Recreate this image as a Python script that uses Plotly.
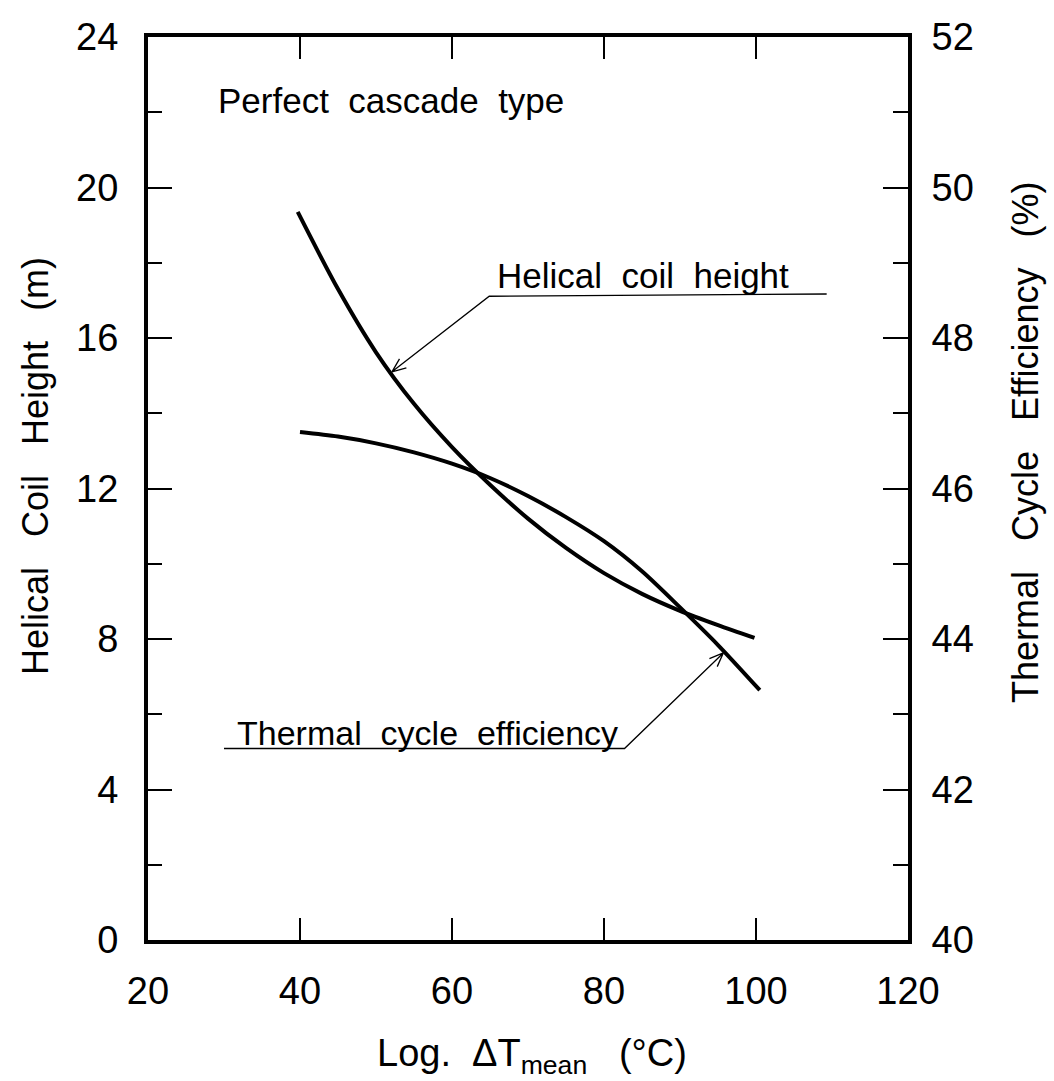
import math
import plotly.graph_objects as go

# ---------------- data ----------------
dT_coil = [39.7, 45, 50, 55, 60, 65, 70, 75, 80, 85, 90, 95, 99.8]
coil_height = [19.35, 17.3, 15.62, 14.25, 13.1, 12.1, 11.2, 10.42, 9.75, 9.2, 8.75, 8.37, 8.03]

dT_eff = [40, 45, 50, 55, 60, 65, 70, 75, 80, 85, 90, 95, 100.5]
cycle_eff = [46.75, 46.69, 46.6, 46.48, 46.33, 46.14, 45.9, 45.62, 45.3, 44.9, 44.42, 43.92, 43.32]

x_ticks = [20, 40, 60, 80, 100, 120]
y_left_ticks = [0, 4, 8, 12, 16, 20, 24]
y_right_ticks = [40, 42, 44, 46, 48, 50, 52]

FONT = "Liberation Sans"
NB = "\u00a0"

# layout geometry
W, H = 1054, 1081
ML, MR, MT, MB = 148, 146, 37, 141
SX = (W - ML - MR) / 100.0   # px per x unit
SY = (H - MT - MB) / 24.0    # px per left-y unit

fig = go.Figure()
fig.add_trace(go.Scatter(x=dT_coil, y=coil_height, mode="lines",
                         line=dict(color="black", width=4, shape="spline", smoothing=0.8),
                         showlegend=False, hoverinfo="skip"))
fig.add_trace(go.Scatter(x=dT_eff, y=cycle_eff, mode="lines", yaxis="y2",
                         line=dict(color="black", width=4, shape="spline", smoothing=0.8),
                         showlegend=False, hoverinfo="skip"))


def leader(points, lw=1.3):
    """points in data coords; last point is the arrow tip."""
    path = "M " + " L ".join(f"{x},{y}" for x, y in points)
    (x0, y0), (x1, y1) = points[-2], points[-1]
    dxp, dyp = (x1 - x0) * SX, -(y1 - y0) * SY
    ang = math.atan2(dyp, dxp)
    L = 15
    for s in (+1, -1):
        a = ang + math.pi + s * math.radians(22)
        hx = x1 + L * math.cos(a) / SX
        hy = y1 - L * math.sin(a) / SY
        path += f" M {x1},{y1} L {hx},{hy}"
    fig.add_shape(type="path", path=path, xref="x", yref="y",
                  line=dict(color="black", width=lw))


# leader for "Helical coil height"
leader([(109.3, 17.17), (64.9, 17.11), (52.1, 15.10)])
# leader for "Thermal cycle efficiency"
leader([(30.0, 5.09), (82.7, 5.09), (95.7, 7.63)])

ann = [
    dict(x=29.0, y=22.3, text=f"Perfect{NB}{NB}cascade{NB}{NB}type", size=35),
    dict(x=65.6, y=17.65, text=f"Helical{NB}{NB}coil{NB}{NB}height", size=35),
    dict(x=31.4, y=5.5, text=f"Thermal{NB}{NB}cycle{NB}{NB}efficiency", size=34),
]
for a in ann:
    fig.add_annotation(x=a["x"], y=a["y"], xref="x", yref="y", text=a["text"],
                       showarrow=False, xanchor="left", yanchor="middle",
                       font=dict(family=FONT, size=a["size"], color="black"))

# axis titles as annotations
fig.add_annotation(x=(35 - ML) / (W - ML - MR), y=(940 - 466) / (H - MT - MB),
                   xref="paper", yref="paper", textangle=-90, showarrow=False,
                   xanchor="center", yanchor="middle",
                   text=f"Helical{NB}{NB}{NB}Coil{NB}{NB}{NB}Height{NB}{NB}{NB}(m)",
                   font=dict(family=FONT, size=36, color="black"))
fig.add_annotation(x=(1025 - ML) / (W - ML - MR), y=(940 - 443) / (H - MT - MB),
                   xref="paper", yref="paper", textangle=-90, showarrow=False,
                   xanchor="center", yanchor="middle",
                   text=f"Thermal{NB}{NB}{NB}Cycle{NB}{NB}{NB}Efficiency{NB}{NB}{NB}(%)",
                   font=dict(family=FONT, size=36, color="black"))
fig.add_annotation(x=(532 - ML) / (W - ML - MR), y=(940 - 1056) / (H - MT - MB),
                   xref="paper", yref="paper", showarrow=False,
                   xanchor="center", yanchor="middle",
                   text=f"Log.{NB}{NB}ΔT<sub>mean</sub>{NB}{NB}{NB}(°C)",
                   font=dict(family=FONT, size=38, color="black"))

tickfont = dict(family=FONT, size=38, color="black")
fig.update_layout(
    width=W, height=H,
    margin=dict(l=ML, r=MR, t=MT, b=MB, pad=0),
    paper_bgcolor="white", plot_bgcolor="white",
    xaxis=dict(range=[20, 120], tickvals=x_ticks, ticks="inside", ticklen=22,
               tickwidth=1.5, tickcolor="black", showline=True, linewidth=4,
               linecolor="black", mirror="ticks", showgrid=False, zeroline=False,
               tickfont=tickfont, ticklabelstandoff=14),
    yaxis=dict(range=[0, 24], tickvals=y_left_ticks, ticks="inside", ticklen=24,
               tickwidth=1.5, tickcolor="black", showline=True, linewidth=4,
               linecolor="black", showgrid=False, zeroline=False,
               tickfont=tickfont, ticklabelstandoff=18,
               minor=dict(dtick=2, tick0=0, ticks="inside", ticklen=14,
                          tickwidth=1.5, tickcolor="black", showgrid=False)),
    yaxis2=dict(range=[40, 52], tickvals=y_right_ticks, ticks="inside", ticklen=25,
                tickwidth=1.5, tickcolor="black", showline=True, linewidth=4,
                linecolor="black", showgrid=False, zeroline=False,
                overlaying="y", side="right",
                tickfont=tickfont, ticklabelstandoff=12,
                minor=dict(dtick=1, tick0=40, ticks="inside", ticklen=15,
                           tickwidth=1.5, tickcolor="black", showgrid=False)),
)

fig.write_html("out.html")
